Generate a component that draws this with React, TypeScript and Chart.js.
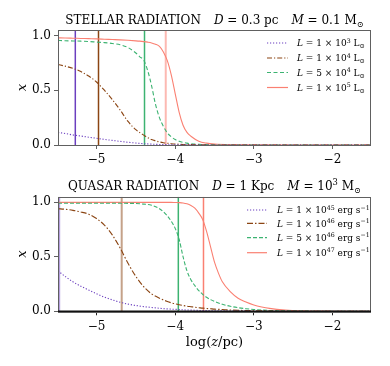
import React, { useEffect, useRef } from "react";
import { Chart, registerables } from "chart.js";
Chart.register(...registerables);

const FONT = '"DejaVu Serif", serif';

// ---------- DATA ----------
const xTicks = [-5, -4, -3, -2];
const yTicks = [0, 0.5, 1.0];
const xMin = -5.49;
const xMax = -1.51;
const yMin = 0;
const yMax = 1.05;

// Top panel: stellar radiation
const topLogZ = [-5.49, -5.4, -5.3, -5.2, -5.1, -5.0, -4.9, -4.8, -4.7, -4.6, -4.5, -4.45, -4.4, -4.35, -4.3, -4.25, -4.2, -4.15, -4.1, -4.05, -4.0, -3.95, -3.9, -3.85, -3.8, -3.7, -3.6, -3.5, -3.3, -3.0, -2.5, -2.0, -1.51];
const topL1e3 = [0.115, 0.105, 0.092, 0.082, 0.071, 0.061, 0.051, 0.042, 0.033, 0.025, 0.018, 0.015, 0.012, 0.01, 0.008, 0.006, 0.005, 0.004, 0.003, 0.0025, 0.002, 0.0015, 0.001, 0.001, 0.001, 0, 0, 0, 0, 0, 0, 0, 0];
const topL1e4 = [0.735, 0.72, 0.7, 0.67, 0.63, 0.575, 0.5, 0.415, 0.32, 0.215, 0.14, 0.113, 0.09, 0.068, 0.05, 0.038, 0.028, 0.021, 0.016, 0.012, 0.009, 0.007, 0.005, 0.004, 0.003, 0.002, 0.001, 0, 0, 0, 0, 0, 0];
const topL5e4 = [0.955, 0.952, 0.95, 0.948, 0.945, 0.94, 0.935, 0.927, 0.915, 0.89, 0.84, 0.805, 0.775, 0.68, 0.54, 0.37, 0.25, 0.17, 0.11, 0.075, 0.05, 0.034, 0.024, 0.017, 0.012, 0.006, 0.003, 0.001, 0, 0, 0, 0, 0];
const topL1e5 = [0.978, 0.977, 0.975, 0.973, 0.971, 0.969, 0.966, 0.963, 0.96, 0.956, 0.951, 0.948, 0.944, 0.939, 0.932, 0.92, 0.9, 0.85, 0.77, 0.64, 0.47, 0.3, 0.18, 0.115, 0.08, 0.035, 0.017, 0.009, 0.003, 0.001, 0, 0, 0];
const topVlines = [-5.27, -4.975, -4.39, -4.12];
const topMant = ["1", "1", "5", "1"];
const topExp = ["3", "4", "4", "5"];

// Bottom panel: quasar radiation
const botLogZ = [-5.49, -5.4, -5.3, -5.2, -5.1, -5.0, -4.9, -4.8, -4.7, -4.6, -4.5, -4.4, -4.3, -4.2, -4.1, -4.05, -4.0, -3.95, -3.9, -3.85, -3.8, -3.75, -3.7, -3.65, -3.6, -3.55, -3.5, -3.45, -3.4, -3.3, -3.2, -3.1, -3.0, -2.9, -2.8, -2.6, -2.4, -2.0, -1.51];
const botL1e45 = [0.37, 0.32, 0.27, 0.23, 0.195, 0.16, 0.13, 0.105, 0.083, 0.066, 0.053, 0.043, 0.035, 0.028, 0.022, 0.02, 0.018, 0.016, 0.014, 0.012, 0.011, 0.01, 0.008, 0.007, 0.006, 0.0055, 0.005, 0.0045, 0.004, 0.003, 0.002, 0.0015, 0.001, 0.001, 0, 0, 0, 0, 0];
const botL1e46 = [0.94, 0.935, 0.925, 0.91, 0.89, 0.85, 0.79, 0.7, 0.58, 0.44, 0.32, 0.225, 0.16, 0.12, 0.09, 0.078, 0.068, 0.06, 0.053, 0.047, 0.042, 0.037, 0.033, 0.029, 0.026, 0.023, 0.02, 0.018, 0.016, 0.012, 0.009, 0.007, 0.005, 0.004, 0.003, 0.001, 0, 0, 0];
const botL5e46 = [0.99, 0.99, 0.99, 0.99, 0.99, 0.99, 0.99, 0.99, 0.99, 0.989, 0.988, 0.982, 0.972, 0.94, 0.875, 0.825, 0.76, 0.66, 0.5, 0.37, 0.29, 0.235, 0.19, 0.155, 0.128, 0.107, 0.09, 0.076, 0.064, 0.046, 0.033, 0.024, 0.017, 0.012, 0.008, 0.004, 0.002, 0, 0];
const botL1e47 = [0.998, 0.998, 0.998, 0.998, 0.998, 0.998, 0.998, 0.998, 0.998, 0.998, 0.998, 0.998, 0.998, 0.998, 0.998, 0.998, 0.997, 0.996, 0.993, 0.985, 0.97, 0.945, 0.9, 0.84, 0.73, 0.59, 0.45, 0.35, 0.27, 0.18, 0.12, 0.085, 0.058, 0.04, 0.027, 0.012, 0.005, 0.001, 0];
const botVlines = [-5.475, -4.68, -3.96, -3.64];
const botMant = ["1", "1", "5", "1"];
const botExp = ["45", "46", "46", "47"];

// ---------- STYLES ----------
const COLORS = ["#6b3fbf", "#8b4513", "#3cb371", "#fa8072"];
const topDashes = [[1.2, 1.8], [5, 2, 1.2, 2], [4, 2.5], []];
const botDashes = [[1.2, 1.8], [6, 2, 1.5, 2], [4, 2], []];
const topVAlpha = [1, 1, 1, 0.55];
const topVWidth = [1.5, 1.5, 1.5, 2];
const botVAlpha = [0.5, 0.5, 1, 1];
const botVWidth = [2, 2, 1.5, 1.5];

type Run = { t?: string; it?: boolean; sup?: boolean; sub?: boolean; gap?: number };

function drawRuns(ctx: CanvasRenderingContext2D, runs: Run[], x: number, y: number, size: number, align: "left" | "center") {
  const fontFor = (r: Run) => `${r.it ? "italic " : ""}${r.sup || r.sub ? size * 0.7 : size}px ${FONT}`;
  let total = 0;
  for (const r of runs) {
    if (r.gap) { total += r.gap; continue; }
    ctx.font = fontFor(r);
    total += ctx.measureText(r.t || "").width;
  }
  let cx = align === "center" ? x - total / 2 : x;
  ctx.textBaseline = "alphabetic";
  ctx.textAlign = "left";
  ctx.fillStyle = "#000";
  for (const r of runs) {
    if (r.gap) { cx += r.gap; continue; }
    ctx.font = fontFor(r);
    const dy = r.sup ? -size * 0.4 : r.sub ? size * 0.22 : 0;
    ctx.fillText(r.t || "", cx, y + dy);
    cx += ctx.measureText(r.t || "").width;
  }
}

function hexA(hex: string, a: number) {
  const n = parseInt(hex.slice(1), 16);
  return `rgba(${(n >> 16) & 255},${(n >> 8) & 255},${n & 255},${a})`;
}

type PanelCfg = {
  height: number;
  areaTop: number;
  areaBottom: number;
  logZ: number[];
  series: number[][];
  vlines: number[];
  dashes: number[][];
  vAlpha: number[];
  vWidth: number[];
  title: Run[];
  titleY: number;
  legend: Run[][];
  legendLineX: [number, number];
  legendTextX: number;
  legendRows: number[];
  xTitle: Run[] | null;
  xTitleY: number;
  darkBottom: boolean;
};

const topCfg: PanelCfg = {
  height: 170,
  areaTop: 30,
  areaBottom: 145,
  logZ: topLogZ,
  series: [topL1e3, topL1e4, topL5e4, topL1e5],
  vlines: topVlines,
  dashes: topDashes,
  vAlpha: topVAlpha,
  vWidth: topVWidth,
  title: [
    { t: "STELLAR RADIATION" }, { gap: 13 }, { t: "D", it: true }, { t: " = 0.3 pc" }, { gap: 13 },
    { t: "M", it: true }, { t: " = 0.1 M" }, { t: "⊙", sub: true },
  ],
  titleY: 24,
  legend: topMant.map((m, i) => [
    { t: "L", it: true }, { t: ` = ${m} × 10` }, { t: topExp[i], sup: true }, { t: " L" }, { t: "⊙", sub: true },
  ]),
  legendLineX: [-104, -83],
  legendTextX: -74,
  legendRows: [13, 28, 42.5, 57.5],
  xTitle: null,
  xTitleY: 0,
  darkBottom: false,
};

const botCfg: PanelCfg = {
  height: 196,
  areaTop: 26.7,
  areaBottom: 141.3,
  logZ: botLogZ,
  series: [botL1e45, botL1e46, botL5e46, botL1e47],
  vlines: botVlines,
  dashes: botDashes,
  vAlpha: botVAlpha,
  vWidth: botVWidth,
  title: [
    { t: "QUASAR RADIATION" }, { gap: 13 }, { t: "D", it: true }, { t: " = 1 Kpc" }, { gap: 13 },
    { t: "M", it: true }, { t: " = 10" }, { t: "3", sup: true }, { t: " M" }, { t: "⊙", sub: true },
  ],
  titleY: 20,
  legend: botMant.map((m, i) => [
    { t: "L", it: true }, { t: ` = ${m} × 10` }, { t: botExp[i], sup: true }, { t: " erg s" }, { t: "−1", sup: true },
  ]),
  legendLineX: [-124, -104],
  legendTextX: -94,
  legendRows: [13.3, 26.6, 41, 56],
  xTitle: [{ t: "log(" }, { t: "z", it: true }, { t: "/pc)" }],
  xTitleY: 176,
  darkBottom: true,
};

function Panel({ cfg, top }: { cfg: PanelCfg; top: number }) {
  const ref = useRef<HTMLCanvasElement | null>(null);
  useEffect(() => {
    const canvas = ref.current!;
    const curveSets = cfg.series.map((vals, i) => ({
      data: cfg.logZ.map((x, j) => ({ x, y: vals[j] })),
      borderColor: COLORS[i],
      borderWidth: 1.1,
      borderDash: cfg.dashes[i],
      pointRadius: 0,
      fill: false,
      cubicInterpolationMode: "monotone" as const,
    }));
    const vSets = cfg.vlines.map((v, i) => ({
      data: [{ x: v, y: yMin }, { x: v, y: yMax }],
      borderColor: hexA(COLORS[i], cfg.vAlpha[i]),
      borderWidth: cfg.vWidth[i],
      pointRadius: 0,
      fill: false,
    }));

    const decor = {
      id: "decor",
      afterDatasetsDraw(chart: any) {
        const { ctx, chartArea: a } = chart;
        ctx.save();
        ctx.strokeStyle = "#606060";
        ctx.lineWidth = 1;
        ctx.setLineDash([]);
        ctx.strokeRect(Math.round(a.left) + 0.5, Math.round(a.top) + 0.5, Math.round(a.right - a.left) - 1, Math.round(a.bottom - a.top));
        if (cfg.darkBottom) {
          ctx.strokeStyle = "#111";
          ctx.lineWidth = 1.6;
          ctx.beginPath();
          ctx.moveTo(a.left, a.bottom);
          ctx.lineTo(a.right, a.bottom);
          ctx.stroke();
        }
        ctx.restore();
      },
      afterDraw(chart: any) {
        const { ctx, chartArea: a } = chart;
        ctx.save();
        drawRuns(ctx, cfg.title, (a.left + a.right) / 2, cfg.titleY, 12, "center");
        cfg.legend.forEach((runs, i) => {
          const y = a.top + cfg.legendRows[i];
          ctx.strokeStyle = COLORS[i];
          ctx.lineWidth = 1.2;
          ctx.setLineDash(cfg.dashes[i]);
          ctx.beginPath();
          ctx.moveTo(a.right + cfg.legendLineX[0], y);
          ctx.lineTo(a.right + cfg.legendLineX[1], y);
          ctx.stroke();
          ctx.setLineDash([]);
          drawRuns(ctx, runs, a.right + cfg.legendTextX, y + 3.2, 9, "left");
        });
        if (cfg.xTitle) drawRuns(ctx, cfg.xTitle, (a.left + a.right) / 2, cfg.xTitleY, 13, "center");
        ctx.restore();
      },
    };

    const chart = new Chart(canvas, {
      type: "line",
      data: { datasets: [...curveSets, ...vSets] as any },
      options: {
        animation: false,
        responsive: false,
        maintainAspectRatio: false,
        layout: { padding: { top: cfg.areaTop, right: 19, left: 0, bottom: 0 } },
        plugins: { legend: { display: false }, tooltip: { enabled: false }, title: { display: false } },
        scales: {
          x: {
            type: "linear",
            min: xMin,
            max: xMax,
            afterBuildTicks: (s: any) => { s.ticks = xTicks.map((v) => ({ value: v })); },
            afterFit: (s: any) => { s.height = cfg.height - cfg.areaBottom; },
            border: { display: false },
            grid: { drawOnChartArea: false, drawTicks: true, tickLength: 4, color: cfg.darkBottom ? "#222" : "#606060" },
            ticks: {
              padding: 4,
              color: "#000",
              font: { family: FONT, size: 12 },
              maxRotation: 0,
              callback: (v: any) => (Number(v) < 0 ? "−" + Math.abs(Number(v)) : String(v)),
            },
          },
          y: {
            type: "linear",
            min: yMin,
            max: yMax,
            afterBuildTicks: (s: any) => { s.ticks = yTicks.map((v) => ({ value: v })); },
            afterFit: (s: any) => { s.width = 58; },
            border: { display: false },
            grid: { drawOnChartArea: false, drawTicks: true, tickLength: 4, color: "#606060" },
            ticks: {
              padding: 3,
              color: "#000",
              font: { family: FONT, size: 12 },
              callback: (v: any) => Number(v).toFixed(1),
            },
            title: {
              display: true,
              text: "x",
              color: "#000",
              font: { family: FONT, size: 13, style: "italic" },
              padding: { top: 15, bottom: 0 },
            },
          },
        },
      },
      plugins: [decor],
    } as any);
    return () => chart.destroy();
  }, [cfg]);
  return (
    <canvas
      ref={ref}
      width={390}
      height={cfg.height}
      style={{ position: "absolute", left: 0, top, width: 390, height: cfg.height, display: "block" }}
    />
  );
}

export default function App() {
  return (
    <div style={{ position: "fixed", left: 0, top: 0, width: 390, height: 366, background: "#fff" }}>
      <Panel cfg={topCfg} top={0} />
      <Panel cfg={botCfg} top={170} />
    </div>
  );
}
